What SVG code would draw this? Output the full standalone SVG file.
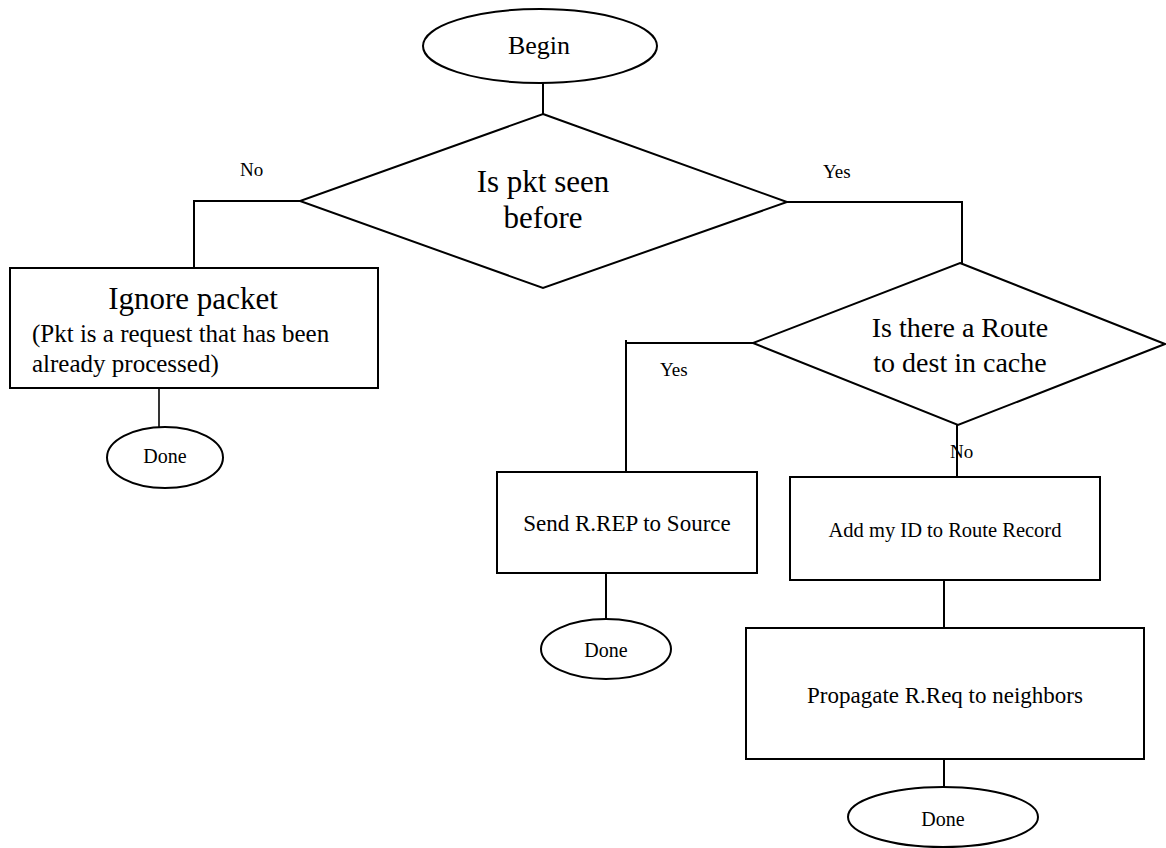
<svg xmlns="http://www.w3.org/2000/svg" width="1166" height="848" viewBox="0 0 1166 848">
<style>
.s{fill:#fff;stroke:#000;stroke-width:2}
.c{fill:none;stroke:#000;stroke-width:2}
.m{text-anchor:middle}
</style>
<rect width="1166" height="848" fill="#fff"/>
<g font-family="Liberation Serif, Tinos, Times New Roman, DejaVu Serif, serif" fill="#000">
<g id="connectors">
<path class="c" d="M543,83 V114"/>
<path class="c" d="M300,201 H194 V268"/>
<path class="c" d="M787,202 H962 V263"/>
<path class="c" d="M159,388 V427" style="stroke-width:1.6"/>
<path class="c" d="M753,343 H626 V472 M626,340 V343"/>
<path class="c" d="M957,425 V478"/>
<path class="c" d="M606,574 V619"/>
<path class="c" d="M944,580 V628"/>
<path class="c" d="M944,759 V787"/>
<text x="240" y="176" font-size="19">No</text>
<text x="823" y="178" font-size="19">Yes</text>
<text x="660" y="376" font-size="19">Yes</text>
<text x="950" y="458" font-size="19">No</text>
</g>
<g id="begin">
<ellipse class="s" cx="540" cy="46" rx="117" ry="37"/>
<text class="m" x="539" y="54" font-size="26">Begin</text>
</g>
<g id="seen">
<polygon class="s" points="543,114 787,202 543,288 300,201"/>
<text class="m" x="543" y="192" font-size="31">Is pkt seen</text>
<text class="m" x="543" y="228" font-size="31">before</text>
</g>
<g id="ignore">
<rect class="s" x="10" y="268" width="368" height="120"/>
<text class="m" x="193" y="309" font-size="31">Ignore packet</text>
<text x="32" y="342" font-size="25">(Pkt is a request that has been</text>
<text x="32" y="372" font-size="25">already processed)</text>
</g>
<g id="done1">
<ellipse class="s" cx="165" cy="457.5" rx="58" ry="30.5"/>
<text class="m" x="165" y="463" font-size="20">Done</text>
</g>
<g id="route">
<polygon class="s" points="960,263 1165,344 958,425 753,343"/>
<text class="m" x="960" y="337" font-size="28">Is there a Route</text>
<text class="m" x="960" y="372" font-size="28">to dest in cache</text>
</g>
<g id="send">
<rect class="s" x="497" y="472" width="260" height="101"/>
<text class="m" x="627" y="531" font-size="23">Send R.REP to Source</text>
</g>
<g id="done2">
<ellipse class="s" cx="606" cy="649" rx="65" ry="30"/>
<text class="m" x="606" y="657" font-size="20">Done</text>
</g>
<g id="add">
<rect class="s" x="790" y="477" width="310" height="103"/>
<text class="m" x="945" y="537" font-size="20.5">Add my ID to Route Record</text>
</g>
<g id="propagate">
<rect class="s" x="746" y="628" width="398" height="131"/>
<text class="m" x="945" y="703" font-size="23">Propagate R.Req to neighbors</text>
</g>
<g id="done3">
<ellipse class="s" cx="943" cy="817" rx="95" ry="30"/>
<text class="m" x="943" y="826" font-size="20">Done</text>
</g>
</g>
</svg>
